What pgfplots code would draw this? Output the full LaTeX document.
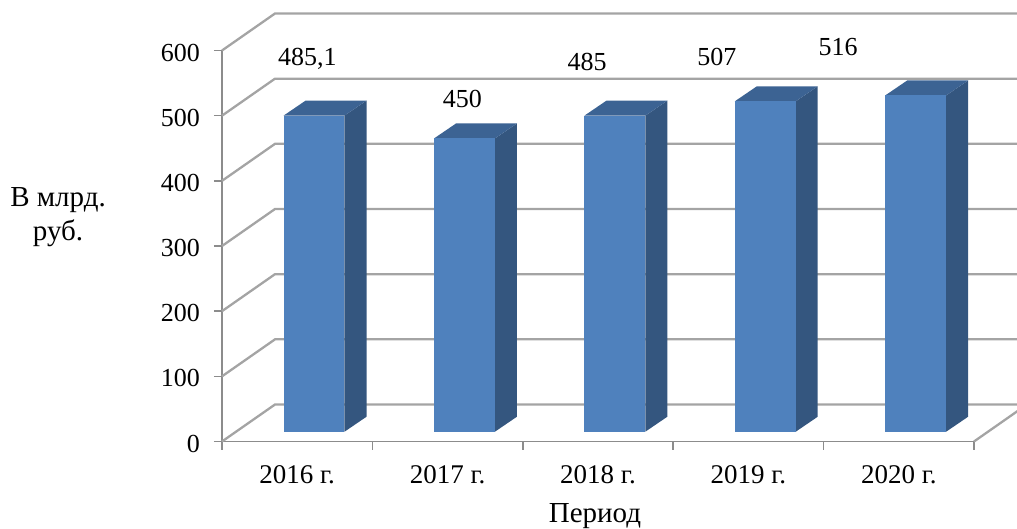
\documentclass[border=0pt]{standalone}
\usepackage{pgfplots}
\pgfplotsset{compat=1.18}
\usepackage{pgfplotstable}
\usepackage{fontspec}
\setmainfont{Liberation Serif}
\definecolor{frontc}{HTML}{4F81BD}
\definecolor{topc}{HTML}{3C6393}
\definecolor{sidec}{HTML}{34567F}
\definecolor{gridc}{HTML}{A4A4A4}
\definecolor{axisc}{HTML}{8C8C8C}

\pgfplotstableread{
x v
0 485.1
1 450
2 485
3 507
4 516
}\bardata

\pgfplotstableread{
x y label
0.0685 577.7 {485,1}
1.099 513.3 450
1.927 569.0 485
2.791 577.7 507
3.596 593.1 516
}\labeldata

\begin{document}
\begin{tikzpicture}
\path[use as bounding box, clip] (-222pt,-86.5pt) rectangle (795pt,441.5pt);
\begin{axis}[
  scale only axis,
  width=752pt, height=391pt,
  xmin=-0.5, xmax=4.5, ymin=0, ymax=600,
  clip=false,
  axis lines*=left,
  axis line style={axisc, line width=1.5pt},
  tick style={axisc, line width=1.5pt},
  tick align=outside,
  major tick length=8pt,
  ytick={0,100,...,600},
  xtick={-0.5,0.5,...,4.5},
  xticklabels={},
  extra x ticks={0,1,2,3,4},
  extra x tick labels={2016 г.,2017 г.,2018 г.,2019 г.,2020 г.},
  extra x tick style={major tick length=0pt, xticklabel style={anchor=base, inner sep=0pt, yshift=-41.8pt, font=\fontsize{27}{31}\selectfont}},
  /pgf/number format/assume math mode=true,
  tick label style={font=\fontsize{26}{30}\selectfont, black},
  yticklabel style={font=\fontsize{26}{30}\selectfont, anchor=east, inner sep=0pt, xshift=-14pt, yshift=-2pt},
  xlabel={Период},
  xlabel style={at={(axis description cs:0.496,-0.206)}, anchor=base, inner sep=0pt, font=\fontsize{29}{34}\selectfont},
  ylabel={В млрд.\\руб.},
  ylabel style={rotate=-90, at={(axis description cs:-0.218,0.574)}, anchor=center, align=center, inner sep=0pt, font=\fontsize{29}{34}\selectfont},
]
% walls / floor gridlines
\pgfplotsinvokeforeach{0,100,...,600}{
  \pgfmathsetmacro\yb{#1+56.78}
  \edef\tmp{\noexpand\addplot[gridc, line width=2.3pt] coordinates {(-0.5,#1) (-0.1476,\yb) (4.852,\yb)};}
  \tmp
}
\addplot[gridc, line width=2.3pt] coordinates {(4.5,0) (4.852,56.78)};
% bars
\pgfplotsinvokeforeach{0,...,4}{
  \pgfplotstablegetelem{#1}{v}\of\bardata
  \edef\val{\pgfplotsretval}
  \pgfmathsetmacro\xl{#1-0.0905}
  \pgfmathsetmacro\xr{#1+0.3145}
  \pgfmathsetmacro\xlb{#1-0.0905+0.1463}
  \pgfmathsetmacro\xrb{#1+0.3145+0.1463}
  \pgfmathsetmacro\yt{\val+15}
  \pgfmathsetmacro\ytb{\val+38}
  \edef\tmp{%
    \noexpand\addplot[fill=sidec, draw=none] coordinates {(\xr,15) (\xrb,38) (\xrb,\ytb) (\xr,\yt)} --cycle;
    \noexpand\addplot[fill=topc, draw=none] coordinates {(\xl,\yt) (\xr,\yt) (\xrb,\ytb) (\xlb,\ytb)} --cycle;
    \noexpand\addplot[fill=frontc, draw=none] coordinates {(\xl,15) (\xr,15) (\xr,\yt) (\xl,\yt)} --cycle;
  }%
  \tmp
}
% value labels
\addplot[draw=none, mark=none, nodes near coords, point meta=explicit symbolic,
  every node near coord/.append style={anchor=base, inner sep=0pt, black, font=\fontsize{26}{30}\selectfont}]
  table[x=x, y=y, meta=label] {\labeldata};
\end{axis}
\end{tikzpicture}
\end{document}
